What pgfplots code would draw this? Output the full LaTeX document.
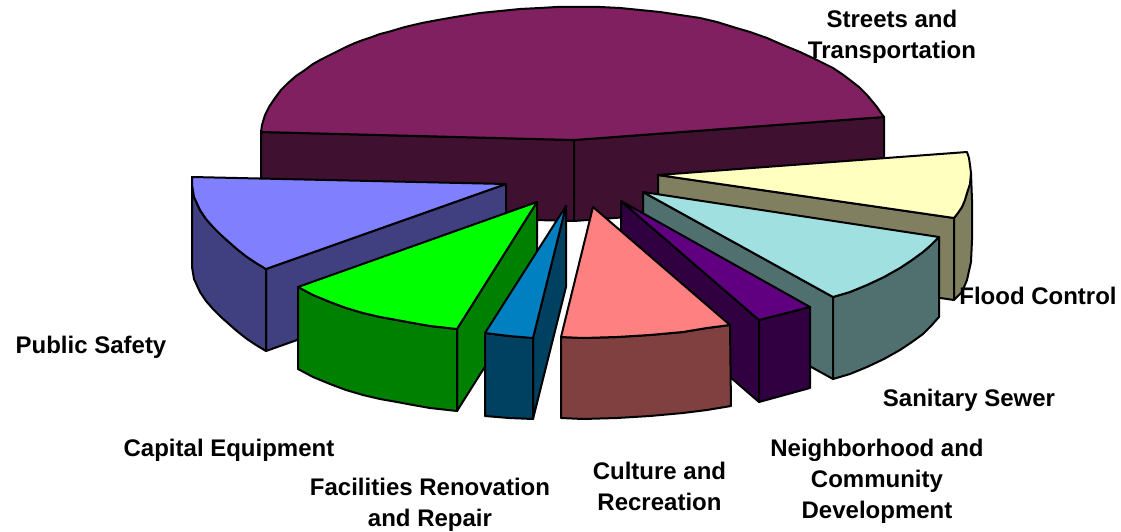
\documentclass[border=0pt]{standalone}
\usepackage{fontspec}
\setmainfont{Liberation Sans}
\usepackage{pgfplots}
\pgfplotsset{compat=1.18}
\definecolor{stT}{HTML}{802060}\definecolor{stS}{HTML}{401030}
\definecolor{flT}{HTML}{FFFFC0}\definecolor{flS}{HTML}{808060}
\definecolor{saT}{HTML}{A0E0E0}\definecolor{saS}{HTML}{507070}
\definecolor{psT}{HTML}{8080FF}\definecolor{psS}{HTML}{404080}
\definecolor{ceT}{HTML}{00FF00}\definecolor{ceS}{HTML}{008000}
\definecolor{frT}{HTML}{0080C0}\definecolor{frS}{HTML}{004060}
\definecolor{nbT}{HTML}{600080}\definecolor{nbS}{HTML}{300040}
\definecolor{cuT}{HTML}{FF8080}\definecolor{cuS}{HTML}{804040}
\tikzset{lab/.style={font=\fontsize{24bp}{31bp}\selectfont\bfseries,align=center,anchor=center,inner sep=0pt,text=black}}
\begin{document}
\begin{tikzpicture}
\useasboundingbox (0,0) rectangle (1121bp,532bp);
\begin{axis}[at={(0,0)},anchor=south west,scale only axis,width=1121bp,height=532bp,
  xmin=0,xmax=1121,ymin=0,ymax=532,y dir=reverse,hide axis,clip=false,
  every axis plot/.append style={draw=black,line width=2bp,line join=round}]
% Streets and Transportation
\addplot[fill=stS] coordinates {(261,132)(574,140)(574,221)(261,213)} --cycle;
\addplot[fill=stS] coordinates {(574,140)(884,117)(884,198)(574,221)} --cycle;
\addplot[fill=stT] coordinates {(261,132)(262,125)(265,115)(269,107)(275,98)(281,90)(288,83)(296,76)(305,70)(313,64)(322,59)(330,55)(338,51)(346,47)(355,43)(363,40)(372,37)(380,34)(388,32)(405,27)(422,23)(438,20)(455,17)(480,13)(500,11)(520,9)(540,8)(557,7)(574,7)(600,7)(620,8)(640,10)(660,12)(680,15)(700,18)(717,22)(733,27)(750,32)(767,38)(783,45)(800,52)(817,60)(833,68)(842,74)(850,80)(859,87)(867,95)(872,101)(877,107)(881,113)(884,117)(574,140)} --cycle;
% Flood Control
\addplot[fill=flS] coordinates {(658,175)(954,218)(954,300)(658,257)} --cycle;
\addplot[fill=flS] coordinates {(954,218)(962,207)(967,193)(971,173)(972,200)(972,240)(971,262)(967,280)(962,292)(954,300)} --cycle;
\addplot[fill=flT] coordinates {(658,175)(967,152)(969,158)(970,165)(971,173)(970,184)(967,193)(965,200)(962,207)(958,213)(954,218)} --cycle;
% Sanitary Sewer
\addplot[fill=saS] coordinates {(643,192)(833,297)(833,379)(643,274)} --cycle;
\addplot[fill=saS] coordinates {(833,297)(850,292)(867,285)(884,277)(900,268)(912,260)(923,252)(931,245)(939,237)(939,317)(931,326)(923,334)(912,342)(900,350)(884,359)(867,367)(850,374)(833,379)} --cycle;
\addplot[fill=saT] coordinates {(643,192)(939,237)(931,245)(923,252)(912,260)(900,268)(884,277)(867,285)(850,292)(833,297)} --cycle;
% Public Safety
\addplot[fill=psS] coordinates {(506,184)(266,269)(266,351)(506,266)} --cycle;
\addplot[fill=psS] coordinates {(192,177)(192,185)(194,197)(200,210)(206,219)(213,227)(221,235)(230,243)(238,250)(247,257)(256,263)(266,269)(266,351)(256,345)(247,339)(238,332)(230,325)(221,317)(213,309)(206,301)(200,292)(194,279)(192,267)} --cycle;
\addplot[fill=psT] coordinates {(506,184)(192,177)(192,185)(194,197)(200,210)(206,219)(213,227)(221,235)(230,243)(238,250)(247,257)(256,263)(266,269)} --cycle;
% Capital Equipment
\addplot[fill=ceS] coordinates {(537,202)(457,329)(457,411)(537,284)} --cycle;
\addplot[fill=ceS] coordinates {(298,287)(313,295)(330,302)(346,308)(363,313)(380,317)(397,320)(413,323)(430,326)(457,329)(457,411)(430,408)(413,405)(397,402)(380,399)(363,395)(346,390)(330,384)(313,377)(298,369)} --cycle;
\addplot[fill=ceT] coordinates {(537,202)(298,287)(313,295)(330,302)(346,308)(363,313)(380,317)(397,320)(413,323)(430,326)(457,329)} --cycle;
% Facilities Renovation and Repair
\addplot[fill=frS] coordinates {(566,206)(533,338)(533,419)(566,287)} --cycle;
\addplot[fill=frS] coordinates {(485,333)(509,336)(533,338)(533,419)(509,418)(485,416)} --cycle;
\addplot[fill=frT] coordinates {(566,206)(485,333)(509,336)(533,338)} --cycle;
% Neighborhood and Community Development
\addplot[fill=nbS] coordinates {(621,201)(759,320)(759,402)(621,283)} --cycle;
\addplot[fill=nbS] coordinates {(759,320)(810,307)(810,388)(759,402)} --cycle;
\addplot[fill=nbT] coordinates {(621,201)(810,307)(759,320)} --cycle;
% Culture and Recreation
\addplot[fill=cuS] coordinates {(561,337)(583,338)(617,337)(650,335)(683,332)(707,328)(730,325)(731,406)(707,410)(683,413)(650,416)(617,418)(583,419)(561,418)} --cycle;
\addplot[fill=cuT] coordinates {(593,207)(730,325)(707,328)(683,332)(650,335)(617,337)(583,338)(561,337)} --cycle;
% labels
\node[lab] at (axis cs:892,36.5) {Streets and\\Transportation};
\node[lab] at (axis cs:1038,296) {Flood Control};
\node[lab] at (axis cs:969,400) {Sanitary Sewer};
\node[lab] at (axis cs:877,481.5) {Neighborhood and\\Community\\Development};
\node[lab] at (axis cs:659.5,486) {Culture and\\Recreation};
\node[lab] at (axis cs:430,504.5) {Facilities Renovation\\and Repair};
\node[lab] at (axis cs:229,450) {Capital Equipment};
\node[lab] at (axis cs:91,347) {Public Safety};
\end{axis}
\end{tikzpicture}
\end{document}
